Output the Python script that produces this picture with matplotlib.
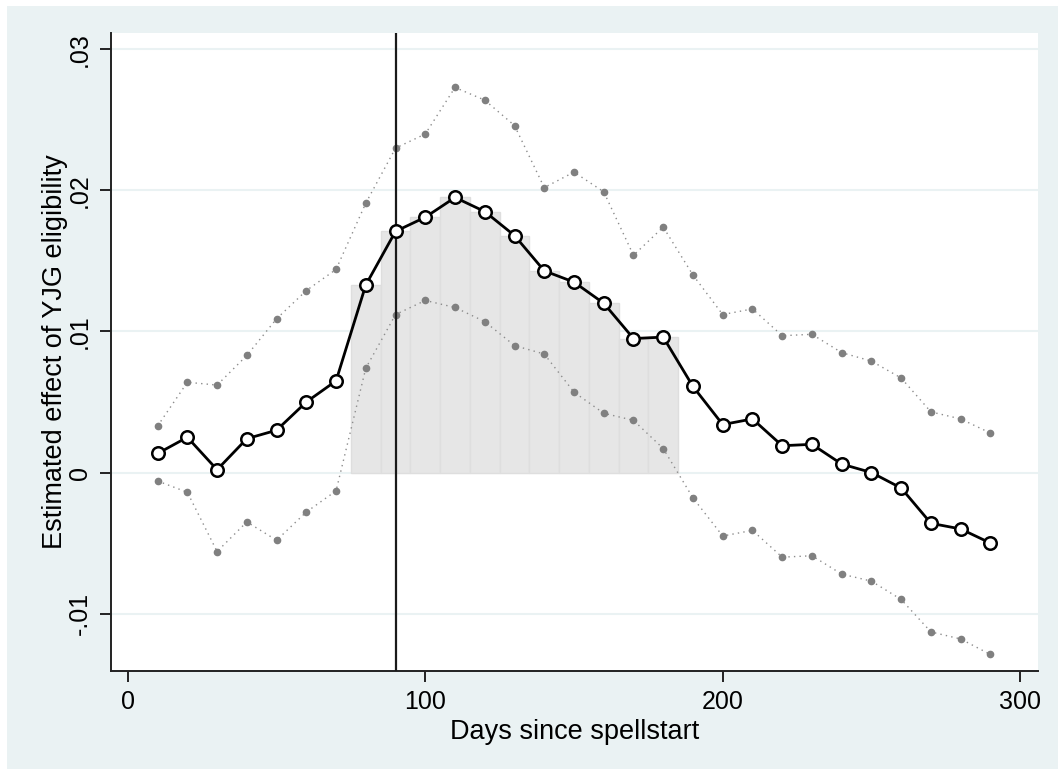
import matplotlib
matplotlib.use("Agg")
import matplotlib.pyplot as plt
import numpy as np
from matplotlib.patches import Rectangle

plt.rcParams['font.family'] = ['Liberation Sans', 'DejaVu Sans']

days = [10, 20, 30, 40, 50, 60, 70, 80, 90, 100, 110, 120, 130, 140, 150,
        160, 170, 180, 190, 200, 210, 220, 230, 240, 250, 260, 270, 280, 290]
estimate = [0.00135, 0.0025, 0.0002, 0.0024, 0.0030, 0.0050, 0.0065, 0.0133,
            0.0171, 0.0181, 0.0195, 0.0185, 0.0168, 0.0143, 0.0135, 0.0120,
            0.0095, 0.0096, 0.0061, 0.0034, 0.0038, 0.0019, 0.0020, 0.0006,
            0.0000, -0.0011, -0.0036, -0.0040, -0.0050]
upper_ci = [0.0033, 0.0064, 0.0062, 0.0083, 0.0109, 0.0129, 0.0144, 0.0191,
            0.0230, 0.0240, 0.0273, 0.0264, 0.0246, 0.0202, 0.0213, 0.0199,
            0.0154, 0.0174, 0.0140, 0.0112, 0.0116, 0.0097, 0.0098, 0.0085,
            0.0079, 0.0067, 0.0043, 0.0038, 0.0028]
lower_ci = [-0.0006, -0.0014, -0.0056, -0.0035, -0.0048, -0.0028, -0.0013, 0.0074,
            0.0112, 0.0122, 0.0117, 0.0107, 0.0090, 0.0084, 0.0057, 0.0042,
            0.0037, 0.0017, -0.0018, -0.0045, -0.0041, -0.0060, -0.0059, -0.0072,
            -0.0077, -0.0090, -0.0113, -0.0118, -0.0129]
bar_days = [80, 90, 100, 110, 120, 130, 140, 150, 160, 170, 180]
cutoff_day = 90
xticks = [0, 100, 200, 300]
yticks = [-0.01, 0, 0.01, 0.02, 0.03]
ytick_labels = ['-.01', '0', '.01', '.02', '.03']

BG = '#EAF2F3'
W, H = 1058, 769
fig = plt.figure(figsize=(W / 100, H / 100), dpi=100, facecolor='white')
fig.patches.append(Rectangle((7 / W, 0), 1, 1 - 6 / H, transform=fig.transFigure,
                             facecolor=BG, edgecolor='none', zorder=-10))

left, right, top, bottom = 111.5, 1038, 33, 671
ax = fig.add_axes([left / W, 1 - bottom / H, (right - left) / W, (bottom - top) / H])
ax.set_facecolor('white')

bar_vals = [estimate[days.index(d)] for d in bar_days]
ax.bar(bar_days, bar_vals, width=10, color='#E6E6E6', edgecolor='#DEDEDE',
       linewidth=1.0, zorder=2)

ax.plot(days, upper_ci, color='#8C8C8C', linestyle=(0, (1, 3)), linewidth=1.0,
        marker='o', markersize=4.5, markerfacecolor='#808080', markeredgecolor='#808080',
        zorder=3)
ax.plot(days, lower_ci, color='#8C8C8C', linestyle=(0, (1, 3)), linewidth=1.0,
        marker='o', markersize=4.5, markerfacecolor='#808080', markeredgecolor='#808080',
        zorder=3)

ax.axvline(cutoff_day, color='#1a1a1a', linewidth=1.6, zorder=4)

ax.plot(days, estimate, color='black', linewidth=2.0, marker='o', markersize=9,
        markerfacecolor='white', markeredgecolor='black', markeredgewidth=1.8, zorder=5)

ax.set_xlim(-5.5, 306)
ax.set_ylim(-0.01407, 0.03116)
ax.set_xticks(xticks)
ax.set_xticklabels([str(t) for t in xticks])
ax.set_yticks(yticks)
ax.set_yticklabels(ytick_labels, rotation=90, va='center')

for y in yticks:
    ax.axhline(y, color=BG, linewidth=1.5, zorder=1)

for s in ['top', 'right']:
    ax.spines[s].set_visible(False)
for s in ['left', 'bottom']:
    ax.spines[s].set_color('#222222')
    ax.spines[s].set_linewidth(1.4)

ax.tick_params(axis='both', direction='out', length=8, width=1.4, color='#222222',
               labelsize=18, pad=6)
ax.set_xlabel('Days since spellstart', fontsize=19.5, labelpad=3)
ax.set_ylabel('Estimated effect of YJG eligibility', fontsize=19.5, labelpad=0)

fig.savefig('out.png', dpi=100, facecolor=fig.get_facecolor())
